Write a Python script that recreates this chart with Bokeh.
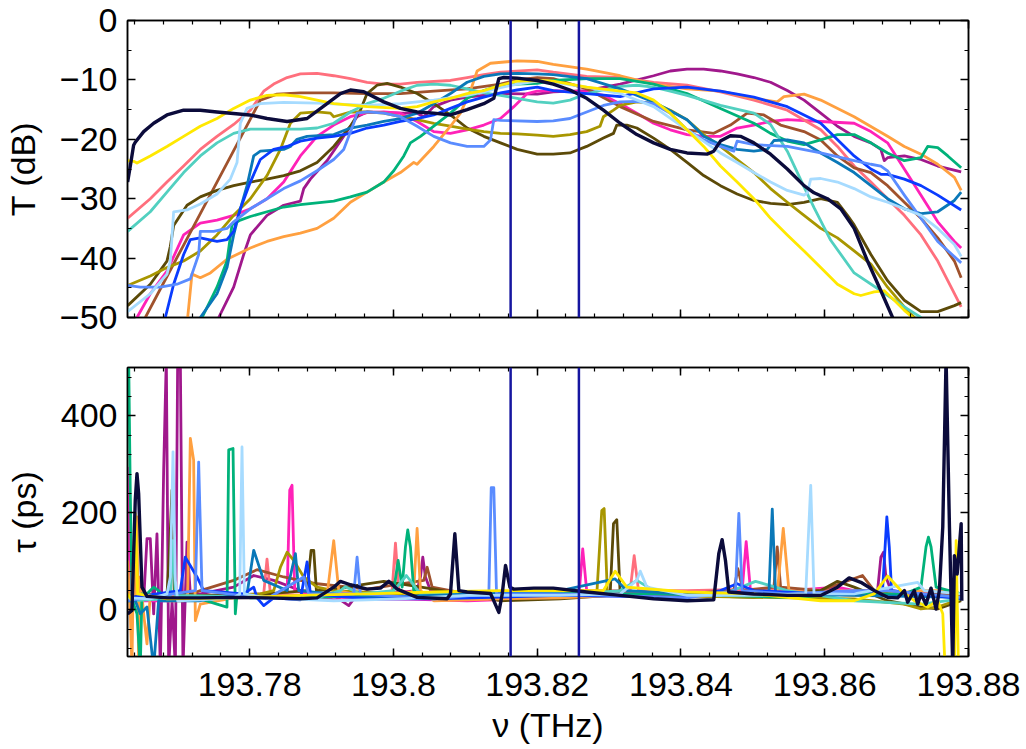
from bokeh.plotting import figure
from bokeh.layouts import column
from bokeh.models import FixedTicker, LinearAxis, Span, CustomJSTickFormatter, Range1d
from bokeh.embed import file_html
from bokeh.resources import INLINE

FONT = "Liberation Sans"

# ---------------- axes / ticks ----------------
NU_RANGE = (193.763, 193.880)
T_RANGE = (-50, 0)
TAU_RANGE = (-96, 500)
NU_TICKS = [193.78, 193.80, 193.82, 193.84, 193.86, 193.88]
T_TICKS = [-50, -40, -30, -20, -10, 0]
TAU_TICKS = [0, 200, 400]
MARKER_NU = [193.8163, 193.8258]

COLORS = {
    "purple": "#a0188c", "hotpink": "#ff22b8", "coral": "#ff6f7d", "brown": "#a0522d",
    "dkolive": "#5c4a08", "olive": "#a89600", "orange": "#ffa040", "green": "#00b27a",
    "turq": "#52d0c0", "steel": "#0a78b8", "blue": "#0a3cff", "cornf": "#5a8cff",
    "ltblue": "#a6dbff", "yellow": "#ffe800", "navy": "#0b0b3b",
}
MARKER_COLOR = "#1616a0"

# ---------------- transmission T (dB): (nu THz, T dB) ----------------
T_NAVY = [(193.76302, -27.2), (193.76339, -24.5), (193.76385, -21.0), (193.76408, -20.5), (193.76525, -18.7),
          (193.76664, -17.3), (193.76849, -15.9), (193.77081, -15.1), (193.77313, -15.1), (193.77545, -15.4),
          (193.78000, -15.9), (193.78241, -16.5), (193.78520, -17.0), (193.78798, -16.5), (193.79076, -14.0),
          (193.79262, -12.3), (193.79401, -11.7), (193.79587, -12.0), (193.79865, -13.7), (193.80097, -14.8),
          (193.80329, -15.4), (193.80561, -15.6), (193.80793, -15.9), (193.81025, -15.0), (193.81257, -14.0),
          (193.81396, -13.1), (193.81466, -9.8), (193.81536, -9.6), (193.81721, -9.7), (193.82000, -10.1),
          (193.82223, -10.7), (193.82456, -11.7), (193.82688, -13.1), (193.82921, -15.1), (193.83154, -17.3),
          (193.83386, -19.2), (193.83619, -20.6), (193.83851, -21.7), (193.84084, -22.3), (193.84363, -22.5),
          (193.84456, -22.0), (193.84549, -20.3), (193.84688, -19.4), (193.84828, -19.5), (193.85014, -20.6),
          (193.85246, -22.5), (193.85479, -25.0), (193.85712, -27.8), (193.85851, -29.0), (193.86037, -30.0),
          (193.86223, -31.7), (193.86409, -35.0), (193.86595, -40.5), (193.86781, -45.5), (193.86944, -50.0),
          (193.87014, -53.0)]
T_YELLOW = [(193.76302, -23.6), (193.76385, -23.7), (193.76432, -24.0), (193.76617, -22.8), (193.76849, -21.2),
            (193.77081, -19.5), (193.77313, -17.8), (193.77545, -16.5), (193.77777, -14.8), (193.78009, -13.4),
            (193.78241, -12.6), (193.78473, -12.5), (193.78705, -12.8), (193.78937, -13.4), (193.79169, -14.0),
            (193.79633, -14.5), (193.80097, -14.8), (193.80329, -14.5), (193.80561, -13.7), (193.80793, -13.1),
            (193.81025, -12.3), (193.81257, -11.8), (193.81489, -10.9), (193.81721, -10.2), (193.82000, -10.1),
            (193.82223, -10.2), (193.82688, -11.2), (193.83154, -11.9), (193.83386, -12.2), (193.83619, -13.4),
            (193.83851, -15.6), (193.84084, -18.4), (193.84316, -21.2), (193.84549, -24.5), (193.84781, -27.2),
            (193.85014, -30.0), (193.85246, -33.3), (193.85479, -36.1), (193.85712, -38.8), (193.85944, -41.6),
            (193.86177, -44.4), (193.86409, -46.0), (193.86502, -46.3), (193.86688, -45.7), (193.86828, -45.5),
            (193.86967, -47.1), (193.87107, -48.8), (193.87223, -50.0), (193.87339, -52.0)]
T_CORAL = [(193.76302, -33.3), (193.76617, -30.0), (193.76849, -27.2), (193.77081, -24.5), (193.77313, -21.7),
           (193.77545, -19.5), (193.77777, -17.5), (193.78009, -15.1), (193.78195, -11.9), (193.78334, -10.7),
           (193.78520, -9.6), (193.78705, -9.0), (193.78937, -8.9), (193.79169, -9.3), (193.79401, -9.8),
           (193.79633, -10.4), (193.79865, -10.7), (193.80097, -10.7), (193.80329, -10.4), (193.80793, -10.1),
           (193.81025, -9.6), (193.81257, -9.1), (193.81489, -8.7), (193.82000, -8.3), (193.82223, -8.7),
           (193.82688, -9.4), (193.83154, -9.6), (193.83619, -10.4), (193.84084, -10.9), (193.84549, -12.0),
           (193.85014, -13.4), (193.85479, -15.1), (193.85944, -18.4), (193.86177, -21.2), (193.86409, -24.5),
           (193.86642, -27.2), (193.86874, -30.0), (193.87107, -32.8), (193.87339, -36.1), (193.87572, -40.5),
           (193.87758, -44.9), (193.87898, -48.2)]
T_TURQ = [(193.76302, -35.5), (193.76617, -32.2), (193.76849, -28.9), (193.77081, -25.6), (193.77313, -22.8),
          (193.77545, -20.6), (193.77777, -19.0), (193.78009, -18.3), (193.78705, -18.3), (193.78937, -18.1),
          (193.79169, -17.3), (193.79401, -15.4), (193.79633, -14.0), (193.79865, -13.1), (193.80097, -11.9),
          (193.80329, -10.9), (193.80561, -10.7), (193.80793, -10.9), (193.81025, -11.5), (193.81257, -12.2),
          (193.81489, -12.6), (193.81721, -13.1), (193.82000, -13.7), (193.82223, -13.9), (193.82456, -13.4),
          (193.82688, -12.3), (193.82921, -11.7), (193.83154, -11.1), (193.83386, -10.9), (193.83619, -11.2),
          (193.83851, -11.9), (193.84084, -12.6), (193.84549, -14.3), (193.85014, -15.6), (193.85246, -17.5),
          (193.85479, -22.0), (193.85712, -28.0), (193.85851, -31.5), (193.86083, -37.0), (193.86409, -42.5),
          (193.86781, -45.5), (193.87107, -48.2), (193.87339, -50.0), (193.87479, -51.5)]
T_BROWN = [(193.76548, -50.0), (193.76849, -43.1), (193.77081, -37.8), (193.77313, -32.5), (193.77545, -27.2),
           (193.77777, -21.9), (193.78009, -16.6), (193.78148, -13.4), (193.78380, -12.4), (193.78705, -12.2),
           (193.79169, -12.2), (193.79633, -12.3), (193.80097, -12.3), (193.80561, -11.9), (193.81025, -11.5),
           (193.81489, -10.7), (193.81721, -10.0), (193.82000, -9.6), (193.82223, -9.8), (193.82688, -11.5),
           (193.83154, -14.5), (193.83619, -17.0), (193.84084, -18.4), (193.84456, -19.0), (193.84688, -17.6),
           (193.84921, -15.6), (193.85153, -15.9), (193.85386, -17.6), (193.85712, -18.7), (193.85944, -20.1),
           (193.86177, -22.8), (193.86409, -24.8), (193.86642, -25.6), (193.86874, -27.8), (193.87107, -30.6),
           (193.87339, -33.3), (193.87572, -36.6), (193.87804, -40.5), (193.87898, -43.3)]
T_DKOLIVE = [(193.76302, -48.0), (193.76617, -44.4), (193.76849, -40.5), (193.76896, -38.0), (193.76942, -34.5),
             (193.77128, -31.1), (193.77313, -29.7), (193.77545, -28.6), (193.77777, -27.8), (193.78009, -27.2),
             (193.78241, -26.7), (193.78473, -26.1), (193.78705, -25.3), (193.78937, -23.9), (193.79169, -21.2),
             (193.79401, -17.8), (193.79540, -15.1), (193.79633, -12.3), (193.79772, -10.9), (193.79912, -10.6),
             (193.80097, -11.2), (193.80329, -12.3), (193.80561, -14.0), (193.80793, -15.9), (193.81025, -18.1),
             (193.81257, -19.5), (193.81489, -20.6), (193.81721, -21.7), (193.82000, -22.5), (193.82223, -22.5),
             (193.82456, -22.3), (193.82688, -21.2), (193.82921, -19.8), (193.83061, -19.0), (193.83107, -17.6),
             (193.83247, -17.6), (193.83386, -18.1), (193.83619, -19.8), (193.83851, -21.7), (193.84084, -23.9),
             (193.84316, -26.1), (193.84549, -27.8), (193.84781, -29.2), (193.85014, -30.3), (193.85246, -30.8),
             (193.85479, -31.0), (193.85712, -30.6), (193.85944, -30.0), (193.86177, -30.6), (193.86316, -32.8),
             (193.86409, -34.4), (193.86642, -39.4), (193.86874, -43.8), (193.87107, -47.1), (193.87339, -49.0),
             (193.87572, -49.0), (193.87804, -48.0), (193.87898, -47.5)]
T_OLIVE = [(193.76302, -44.6), (193.76617, -43.0), (193.76849, -41.6), (193.77081, -40.5), (193.77313, -38.8),
           (193.77545, -36.1), (193.77777, -32.8), (193.78009, -30.0), (193.78241, -26.1), (193.78427, -21.7),
           (193.78566, -17.3), (193.78705, -15.6), (193.78937, -15.4), (193.79123, -15.6), (193.79169, -16.2),
           (193.79401, -15.4), (193.79633, -15.4), (193.79865, -15.6), (193.80097, -16.2), (193.80329, -16.7),
           (193.80561, -17.3), (193.80793, -17.8), (193.81025, -18.3), (193.81257, -18.7), (193.81489, -19.0),
           (193.81721, -19.1), (193.82000, -19.3), (193.82223, -19.5), (193.82456, -19.2), (193.82688, -18.7),
           (193.82874, -17.8), (193.82921, -16.2), (193.83061, -15.1), (193.83154, -14.3), (193.83386, -13.7),
           (193.83619, -13.9), (193.83851, -15.1), (193.84084, -16.7), (193.84316, -19.2), (193.84549, -21.2),
           (193.84781, -23.4), (193.85014, -25.6), (193.85246, -28.3), (193.85479, -30.6), (193.85712, -32.8),
           (193.85944, -35.0), (193.86177, -36.6), (193.86409, -38.8), (193.86642, -41.0), (193.86874, -44.9),
           (193.87107, -48.2), (193.87246, -50.0), (193.87339, -51.0)]
T_LTBLUE = [(193.76302, -49.0), (193.76617, -46.0), (193.76849, -42.7), (193.76896, -40.5), (193.76942, -32.2),
            (193.77128, -31.9), (193.77313, -30.9), (193.77545, -29.2), (193.77731, -26.7), (193.77824, -23.9),
            (193.77870, -17.3), (193.77963, -14.8), (193.78148, -14.0), (193.78473, -13.8), (193.78937, -13.9),
            (193.79633, -14.3), (193.80097, -14.0), (193.80561, -13.4), (193.81025, -12.6), (193.81257, -12.0),
            (193.81489, -11.3), (193.81721, -10.7), (193.82000, -10.2), (193.82223, -10.4), (193.82688, -11.2),
            (193.83154, -12.3), (193.83619, -14.5), (193.84084, -18.4), (193.84549, -22.3), (193.84781, -23.9),
            (193.85014, -25.6), (193.85246, -27.2), (193.85479, -28.6), (193.85712, -29.4), (193.85758, -29.0),
            (193.85805, -26.7), (193.85944, -26.6), (193.86177, -27.2), (193.86409, -28.3), (193.86642, -29.7),
            (193.86874, -30.6), (193.87107, -31.7), (193.87339, -32.8), (193.87572, -35.0), (193.87804, -37.7),
            (193.87898, -39.7)]
T_BLUE = [(193.76826, -50.0), (193.76942, -44.4), (193.77081, -39.4), (193.77174, -36.9), (193.77313, -36.6),
          (193.77545, -37.2), (193.77684, -36.9), (193.77777, -35.5), (193.77870, -31.7), (193.78009, -27.2),
          (193.78148, -23.4), (193.78334, -21.7), (193.78520, -21.2), (193.78705, -20.3), (193.78937, -19.8),
          (193.79169, -19.5), (193.79401, -19.0), (193.79633, -18.1), (193.79865, -17.6), (193.80097, -17.0),
          (193.80329, -16.5), (193.80561, -15.9), (193.80793, -14.8), (193.81025, -13.7), (193.81257, -12.9),
          (193.81489, -12.2), (193.81721, -11.7), (193.82000, -11.2), (193.82223, -11.8), (193.82688, -12.3),
          (193.83154, -12.8), (193.83619, -11.5), (193.84084, -11.2), (193.84549, -11.9), (193.85014, -12.9),
          (193.85479, -14.5), (193.85944, -17.3), (193.86409, -22.8), (193.86642, -25.0), (193.86781, -25.9),
          (193.86874, -25.9), (193.87107, -26.7), (193.87339, -27.8), (193.87572, -29.4), (193.87898, -31.9)]
T_STEEL = [(193.77313, -50.0), (193.77545, -46.0), (193.77684, -41.6), (193.77777, -36.1), (193.77870, -31.7),
           (193.77963, -27.8), (193.78056, -22.8), (193.78148, -22.0), (193.78473, -21.7), (193.78566, -21.2),
           (193.78659, -20.0), (193.78798, -19.5), (193.79169, -19.2), (193.79401, -18.1), (193.79633, -17.6),
           (193.79865, -17.0), (193.80097, -16.5), (193.80329, -15.6), (193.80561, -14.0), (193.80793, -12.3),
           (193.81025, -10.4), (193.81257, -9.4), (193.81489, -9.0), (193.81721, -8.9), (193.82000, -9.0),
           (193.82223, -9.1), (193.82688, -9.8), (193.83154, -11.5), (193.83619, -13.7), (193.84084, -16.7),
           (193.84316, -19.5), (193.84549, -20.9), (193.84781, -21.7), (193.85014, -22.0), (193.85200, -21.7),
           (193.85293, -20.2), (193.85479, -20.1), (193.85712, -20.6), (193.85944, -22.3), (193.86177, -23.9),
           (193.86409, -25.6), (193.86642, -27.8), (193.86874, -30.0), (193.87107, -31.7), (193.87339, -32.5),
           (193.87572, -32.2), (193.87804, -30.3), (193.87898, -28.9)]
T_CORNF = [(193.76302, -44.6), (193.76478, -44.9), (193.76757, -44.9), (193.76989, -44.4), (193.77174, -43.5),
           (193.77290, -39.4), (193.77313, -35.5), (193.77499, -35.5), (193.77684, -35.0), (193.77777, -33.9),
           (193.78009, -31.7), (193.78241, -30.0), (193.78473, -28.3), (193.78705, -27.0), (193.78937, -25.3),
           (193.79169, -23.4), (193.79308, -21.7), (193.79448, -17.3), (193.79494, -15.6), (193.79633, -15.4),
           (193.79865, -15.6), (193.80097, -16.2), (193.80329, -17.8), (193.80561, -19.5), (193.80793, -20.6),
           (193.81025, -21.2), (193.81257, -21.2), (193.81350, -20.1), (193.81396, -16.7), (193.81489, -16.8),
           (193.82000, -17.0), (193.82223, -16.9), (193.82456, -16.5), (193.82688, -15.4), (193.82921, -14.3),
           (193.83154, -13.7), (193.83386, -13.6), (193.83619, -14.0), (193.83851, -15.6), (193.84084, -18.4),
           (193.84316, -20.1), (193.84549, -21.2), (193.84735, -22.0), (193.84781, -20.3), (193.85014, -20.9),
           (193.85479, -21.2), (193.85944, -22.3), (193.86409, -23.6), (193.86642, -24.2), (193.86781, -24.5),
           (193.86874, -25.3), (193.87107, -29.4), (193.87339, -33.3), (193.87572, -37.2), (193.87898, -40.8)]
T_HOTPINK = [(193.76432, -50.0), (193.76617, -46.0), (193.76849, -42.2), (193.77081, -36.1), (193.77313, -34.1),
             (193.77545, -33.6), (193.77777, -32.8), (193.78009, -31.7), (193.78241, -30.0), (193.78473, -27.2),
             (193.78705, -22.8), (193.78937, -19.5), (193.79169, -17.6), (193.79401, -16.2), (193.79633, -15.5),
             (193.79865, -15.4), (193.80097, -15.6), (193.80329, -17.0), (193.80561, -18.7), (193.80793, -19.0),
             (193.81025, -18.4), (193.81257, -17.6), (193.81489, -16.5), (193.81675, -14.5), (193.81860, -12.3),
             (193.82000, -11.9), (193.82223, -11.8), (193.82688, -12.0), (193.82921, -12.6), (193.83154, -14.0),
             (193.83386, -15.6), (193.83619, -17.3), (193.83851, -18.4), (193.84084, -19.2), (193.84316, -19.5),
             (193.84549, -19.5), (193.84781, -18.1), (193.85014, -17.6), (193.85246, -17.0), (193.85479, -16.7),
             (193.85944, -17.0), (193.86409, -17.3), (193.86642, -18.7), (193.86874, -20.6), (193.87107, -25.0),
             (193.87339, -29.4), (193.87572, -33.9), (193.87804, -37.2), (193.87898, -38.3)]
T_PURPLE = [(193.77569, -50.0), (193.77777, -44.9), (193.77916, -39.4), (193.78009, -36.1), (193.78241, -32.8),
            (193.78473, -31.1), (193.78705, -30.4), (193.78752, -28.3), (193.78844, -26.7), (193.79076, -23.6),
            (193.79308, -19.5), (193.79494, -16.2), (193.79633, -15.4), (193.80097, -15.6), (193.80329, -15.6),
            (193.80422, -16.2), (193.80561, -14.5), (193.80793, -13.4), (193.81025, -12.9), (193.81257, -12.6),
            (193.81489, -12.3), (193.82000, -12.4), (193.82223, -12.0), (193.82688, -11.8), (193.83154, -10.7),
            (193.83619, -9.3), (193.83851, -8.5), (193.84084, -8.2), (193.84316, -8.2), (193.84549, -8.5),
            (193.84781, -9.0), (193.85014, -9.6), (193.85246, -10.4), (193.85479, -11.8), (193.85712, -13.4),
            (193.85944, -15.6), (193.86177, -17.8), (193.86409, -19.5), (193.86642, -20.6), (193.86781, -21.7),
            (193.86828, -23.6), (193.86874, -23.1), (193.87107, -22.8), (193.87339, -23.4), (193.87572, -24.5),
            (193.87898, -25.5)]
T_GREEN = [(193.77337, -50.0), (193.77545, -44.9), (193.77684, -40.5), (193.77754, -34.4), (193.77870, -33.6),
           (193.78009, -33.0), (193.78241, -32.2), (193.78473, -31.4), (193.78705, -31.0), (193.78937, -30.7),
           (193.79169, -30.4), (193.79401, -29.7), (193.79633, -28.9), (193.79865, -27.2), (193.80004, -25.3),
           (193.80144, -22.8), (193.80236, -20.6), (193.80376, -19.5), (193.80561, -17.8), (193.80793, -15.6),
           (193.81025, -13.1), (193.81257, -11.8), (193.81489, -10.9), (193.81721, -10.7), (193.82000, -10.6),
           (193.82223, -10.1), (193.82688, -9.8), (193.83154, -9.8), (193.83619, -10.7), (193.84084, -12.3),
           (193.84549, -14.8), (193.85014, -17.3), (193.85246, -19.0), (193.85479, -20.3), (193.85712, -20.9),
           (193.85944, -20.1), (193.86177, -19.2), (193.86409, -19.2), (193.86642, -20.6), (193.86874, -22.3),
           (193.87107, -23.6), (193.87339, -23.1), (193.87432, -21.2), (193.87572, -21.4), (193.87712, -22.8),
           (193.87898, -24.8)]
T_ORANGE = [(193.77137, -50.0), (193.77197, -42.7), (193.77313, -43.3), (193.77453, -42.5), (193.77684, -40.2),
            (193.78009, -38.3), (193.78241, -37.2), (193.78473, -36.4), (193.78705, -35.8), (193.78937, -35.0),
            (193.79169, -33.3), (193.79401, -30.6), (193.79633, -28.9), (193.79865, -27.2), (193.80097, -25.6),
            (193.80283, -23.9), (193.80329, -24.2), (193.80561, -21.2), (193.80793, -17.8), (193.80932, -15.6),
            (193.81072, -11.8), (193.81164, -8.5), (193.81350, -7.2), (193.81721, -6.8), (193.82000, -6.9),
            (193.82223, -7.4), (193.82688, -8.2), (193.83154, -9.3), (193.83619, -10.7), (193.84084, -11.5),
            (193.84549, -11.9), (193.85014, -13.1), (193.85339, -13.7), (193.85432, -12.8), (193.85712, -12.4),
            (193.85944, -13.4), (193.86409, -16.2), (193.86874, -19.5), (193.87107, -21.2), (193.87339, -22.5),
            (193.87572, -24.2), (193.87804, -26.4), (193.87898, -28.6)]

# ---------------- group delay tau (ps): (nu THz, tau ps) ----------------
TAU_NAVY = [(193.76302, -8), (193.76362, -1), (193.76408, 226), (193.76432, 281), (193.76455, 240), (193.76501, 47),
            (193.76571, 28), (193.76849, 25), (193.77313, 25), (193.77777, 26), (193.78241, 25), (193.78705, 23),
            (193.78937, 25), (193.79169, 47), (193.79262, 59), (193.79401, 52), (193.79633, 43), (193.79819, 45),
            (193.79935, 59), (193.80051, 43), (193.80329, 26), (193.80747, 23), (193.80793, 33), (193.80854, 157),
            (193.80910, 40), (193.81025, 37), (193.81350, 34), (193.81396, 19), (193.81466, -5), (193.81513, 33),
            (193.81559, 92), (193.81620, 47), (193.81675, 43), (193.81953, 45), (193.82223, 45), (193.82688, 37),
            (193.83154, 30), (193.83619, 23), (193.84084, 19), (193.84456, 21), (193.84526, 116), (193.84572, 145),
            (193.84619, 102), (193.84665, 37), (193.85014, 33), (193.85479, 30), (193.85944, 30), (193.86177, 47),
            (193.86339, 66), (193.86502, 57), (193.86688, 40), (193.86874, 26), (193.87014, 25), (193.87107, 40),
            (193.87154, 16), (193.87246, 40), (193.87293, 12), (193.87339, 33), (193.87409, 12), (193.87479, 45),
            (193.87549, 2), (193.87595, 40), (193.87642, 171), (193.87688, 520), (193.87735, 171), (193.87781, -120),
            (193.87804, 112), (193.87842, 74), (193.87898, 178), (193.87907, 19)]
TAU_GREEN = [(193.76316, 520), (193.76339, 240), (193.76362, 33), (193.76385, 12), (193.76432, -8), (193.76478, -120),
             (193.76501, 33), (193.76571, 33), (193.76617, 40), (193.76664, 47), (193.76733, 40), (193.76849, 19),
             (193.77081, 23), (193.77313, 23), (193.77545, 12), (193.77684, 6), (193.77708, 330), (193.77768, 333),
             (193.77800, -8), (193.77824, 33), (193.78009, 25), (193.78705, 25), (193.79865, 30), (193.80004, 40),
             (193.80065, 102), (193.80121, 47), (193.80167, 130), (193.80199, 165), (193.80236, 130), (193.80283, 40),
             (193.80561, 30), (193.81489, 30), (193.82000, 34), (193.83619, 33), (193.84549, 30), (193.85479, 26),
             (193.86409, 33), (193.87107, 33), (193.87339, 47), (193.87409, 130), (193.87442, 150), (193.87479, 130),
             (193.87549, 47), (193.87898, 33)]
TAU_ORANGE = [(193.76302, 102), (193.76339, -8), (193.76362, -120), (193.76385, 130), (193.76408, 33), (193.76432, 192),
              (193.76455, -120), (193.76478, 68), (193.76525, -8), (193.76571, -70), (193.76617, 33), (193.76849, 19),
              (193.77081, 19), (193.77137, 33), (193.77174, 354), (193.77220, 309), (193.77244, -22), (193.77313, 12),
              (193.77777, 25), (193.78705, 26), (193.79076, 30), (193.79169, 143), (193.79239, 40), (193.79633, 25),
              (193.80097, 25), (193.80283, 40), (193.80329, 168), (193.80376, 40), (193.80561, 19), (193.81489, 23),
              (193.82324, 25), (193.83619, 33), (193.84549, 30), (193.85339, 33), (193.85423, 168), (193.85502, 40),
              (193.85944, 33), (193.86409, 30), (193.86874, 33), (193.87339, 40), (193.87712, 40), (193.87898, 33)]
TAU_PURPLE = [(193.76525, 19), (193.76571, 147), (193.76617, 147), (193.76664, -8), (193.76710, 157), (193.76757, -120),
              (193.76803, 288), (193.76840, 520), (193.76873, -120), (193.76920, 19), (193.76966, -120), (193.76998, 520),
              (193.77035, 520), (193.77072, -120), (193.77128, 140), (193.77174, 33), (193.77313, 33), (193.77777, 47),
              (193.78056, 71), (193.78334, 61), (193.78705, 40), (193.79169, 30), (193.79378, 9), (193.79448, 23),
              (193.79633, 30), (193.80329, 40), (193.80376, 68), (193.80408, 109), (193.80445, 68), (193.80515, 40),
              (193.81025, 33), (193.82324, 40), (193.83154, 37), (193.84084, 33), (193.85014, 33), (193.85944, 37),
              (193.86735, 40), (193.86781, 109), (193.86818, 119), (193.86851, 68), (193.86921, 40), (193.87339, 33),
              (193.87898, 30)]
TAU_LTBLUE = [(193.76302, 25), (193.76617, 23), (193.76849, 33), (193.76896, 68), (193.76933, 326), (193.76966, 61),
              (193.76998, 19), (193.77313, 21), (193.77777, 25), (193.77861, 33), (193.77893, 336), (193.77926, 33),
              (193.78241, 25), (193.79169, 19), (193.80097, 23), (193.81025, 30), (193.82324, 30), (193.83154, 33),
              (193.83386, 61), (193.83433, 80), (193.83526, 47), (193.84084, 30), (193.85014, 30), (193.85735, 33),
              (193.85805, 257), (193.85851, 33), (193.86409, 33), (193.87293, 57), (193.87386, 40), (193.87898, 33)]
TAU_DKOLIVE = [(193.76302, 30), (193.76849, 30), (193.76886, 130), (193.76919, 247), (193.76951, 33), (193.77313, 30),
               (193.78241, 33), (193.78798, 40), (193.78854, 123), (193.78891, 123), (193.78928, 40), (193.79169, 43),
               (193.79633, 54), (193.79865, 59), (193.80097, 54), (193.80561, 43), (193.81025, 30), (193.81489, 19),
               (193.82324, 23), (193.83014, 30), (193.83061, 178), (193.83107, 186), (193.83154, 33), (193.84084, 30),
               (193.85014, 26), (193.85944, 40), (193.86177, 59), (193.86409, 47), (193.86874, 19), (193.87339, 6),
               (193.87572, 2), (193.87898, 19)]
TAU_OLIVE = [(193.76302, 26), (193.77313, 25), (193.78148, 33), (193.78334, 40), (193.78427, 88), (193.78520, 119),
             (193.78612, 102), (193.78752, 68), (193.78937, 47), (193.79169, 40), (193.80097, 33), (193.81489, 26),
             (193.82324, 30), (193.82828, 30), (193.82898, 205), (193.82931, 209), (193.82977, 30), (193.83619, 30),
             (193.85014, 26), (193.86409, 23), (193.87107, 12), (193.87339, 2), (193.87572, 6), (193.87898, 23)]
TAU_HOTPINK = [(193.76302, 295), (193.76339, 33), (193.76385, 19), (193.76849, 19), (193.78520, 33), (193.78557, 247),
               (193.78589, 257), (193.78626, 40), (193.79169, 21), (193.80097, 23), (193.81025, 19), (193.82324, 25),
               (193.82586, 40), (193.82633, 126), (193.82688, 40), (193.83619, 33), (193.84851, 40), (193.84907, 141),
               (193.84967, 40), (193.85479, 40), (193.86177, 47), (193.86409, 40), (193.87339, 33), (193.87898, 26)]
TAU_CORAL = [(193.76302, 25), (193.78195, 33), (193.78241, 105), (193.78288, 33), (193.79633, 25), (193.79981, 40),
             (193.80028, 138), (193.80074, 40), (193.80561, 30), (193.82324, 40), (193.83293, 40), (193.83349, 112),
             (193.83409, 40), (193.84084, 40), (193.85014, 43), (193.86409, 40), (193.87898, 33)]
TAU_CORNF = [(193.76302, 19), (193.77244, 40), (193.77290, 305), (193.77337, 40), (193.78241, 23), (193.78752, 68),
             (193.78821, 33), (193.79448, 33), (193.79494, 109), (193.79540, 33), (193.80561, 23), (193.81327, 33),
             (193.81360, 252), (193.81396, 252), (193.81434, 33), (193.82324, 33), (193.84084, 25), (193.84758, 40),
             (193.84805, 199), (193.84851, 40), (193.85479, 33), (193.86409, 40), (193.86874, 40), (193.87898, 26)]
TAU_BLUE = [(193.76302, 25), (193.77035, 40), (193.77104, 109), (193.77267, 68), (193.77360, 40), (193.77916, 33),
            (193.78056, 47), (193.78102, 25), (193.78195, 9), (193.78334, 25), (193.78705, 21), (193.78798, 99),
            (193.78844, 33), (193.79633, 23), (193.80561, 23), (193.82324, 30), (193.84084, 26), (193.84549, 40),
            (193.84781, 54), (193.85014, 40), (193.85944, 33), (193.86804, 40), (193.86864, 192), (193.86898, 130),
            (193.86930, 40), (193.87898, 23)]
TAU_STEEL = [(193.76302, 19), (193.76408, 19), (193.76478, -8), (193.76571, 6), (193.76664, -120), (193.76733, 19),
             (193.77313, 19), (193.77963, 33), (193.78056, 123), (193.78195, 61), (193.78520, 40), (193.78636, 116),
             (193.78682, 40), (193.79633, 26), (193.80561, 30), (193.82324, 40), (193.83084, 64), (193.83247, 40),
             (193.84084, 33), (193.85223, 33), (193.85270, 208), (193.85316, 33), (193.86409, 30), (193.87898, 26)]
TAU_TURQ = [(193.76302, 19), (193.76849, 23), (193.76896, 30), (193.76933, 143), (193.76966, 30), (193.78937, 25),
            (193.79262, 40), (193.79332, 48), (193.79540, 33), (193.80004, 40), (193.80180, 71), (193.80376, 33),
            (193.82324, 30), (193.83154, 40), (193.83386, 61), (193.83619, 40), (193.84549, 30), (193.85037, 59),
            (193.85479, 40), (193.86409, 19), (193.87339, 12), (193.87898, 23)]
TAU_BROWN = [(193.76302, 25), (193.77081, 26), (193.77313, 40), (193.77777, 61), (193.78102, 83), (193.78473, 68),
             (193.78937, 54), (193.79633, 43), (193.80422, 61), (193.80469, 88), (193.80538, 47), (193.81025, 33),
             (193.82324, 34), (193.83619, 30), (193.84735, 40), (193.84791, 85), (193.84865, 40), (193.85293, 47),
             (193.85339, 130), (193.85386, 47), (193.85944, 40), (193.86526, 71), (193.86688, 40), (193.87339, 33),
             (193.87898, 30)]
TAU_YELLOW = [(193.76302, 33), (193.76362, 19), (193.76408, 199), (193.76441, 33), (193.76849, 23), (193.77777, 25),
              (193.78705, 30), (193.79633, 33), (193.80561, 37), (193.81489, 40), (193.82324, 40), (193.82921, 40),
              (193.83084, 80), (193.83247, 47), (193.84084, 37), (193.85014, 33), (193.85944, 19), (193.86409, 19),
              (193.86688, 33), (193.86874, 70), (193.87060, 40), (193.87246, 19), (193.87432, 6), (193.87572, 19),
              (193.87642, -8), (193.87674, -120), (193.87804, -120), (193.87828, 143), (193.87860, -120),
              (193.87898, -120)]

T_SERIES = [("purple", T_PURPLE), ("hotpink", T_HOTPINK), ("coral", T_CORAL), ("brown", T_BROWN),
            ("dkolive", T_DKOLIVE), ("olive", T_OLIVE), ("orange", T_ORANGE), ("green", T_GREEN),
            ("turq", T_TURQ), ("steel", T_STEEL), ("blue", T_BLUE), ("cornf", T_CORNF),
            ("ltblue", T_LTBLUE), ("yellow", T_YELLOW), ("navy", T_NAVY)]
TAU_SERIES = [("purple", TAU_PURPLE), ("hotpink", TAU_HOTPINK), ("coral", TAU_CORAL), ("brown", TAU_BROWN),
              ("dkolive", TAU_DKOLIVE), ("olive", TAU_OLIVE), ("orange", TAU_ORANGE), ("green", TAU_GREEN),
              ("turq", TAU_TURQ), ("steel", TAU_STEEL), ("blue", TAU_BLUE), ("cornf", TAU_CORNF),
              ("ltblue", TAU_LTBLUE), ("yellow", TAU_YELLOW), ("navy", TAU_NAVY)]

X_FMT = CustomJSTickFormatter(code="let s = tick.toFixed(2); if (s.endsWith('0')) { s = s.slice(0, -1); } return s;")
Y_FMT = CustomJSTickFormatter(code="return (tick < 0 ? '\\u2212' : '') + Math.abs(tick).toFixed(0);")
NO_FMT = CustomJSTickFormatter(code="return '';")

x_minor = [round(193.764 + 0.004 * i, 3) for i in range(30)]
t_minor = [-50 + 5 * i for i in range(11)]
tau_minor = [-80 + 40 * i for i in range(15)]


def style_axis(ax, labels):
    ax.major_tick_in = 8
    ax.major_tick_out = 0
    ax.minor_tick_in = 4
    ax.minor_tick_out = 0
    ax.axis_line_color = "black"
    ax.axis_line_width = 1.5
    ax.major_tick_line_width = 1.5
    ax.minor_tick_line_width = 1.2
    ax.major_label_text_font = FONT
    ax.major_label_text_font_size = "34px"
    ax.major_label_text_color = "black"
    ax.major_label_standoff = 10 if labels else 0
    ax.axis_label_text_font = FONT
    ax.axis_label_text_font_size = "34px"
    ax.axis_label_text_font_style = "normal"
    ax.axis_label_text_color = "black"


def make_panel(height, top, bottom, y_range, y_ticks, y_minor, series, ylabel, xlabel):
    p = figure(width=1026, height=height, output_backend="svg", toolbar_location=None,
               x_range=Range1d(*NU_RANGE), y_range=Range1d(*y_range),
               min_border_left=127, min_border_right=58, min_border_top=top, min_border_bottom=bottom)
    p.grid.visible = False
    p.outline_line_color = "black"
    p.outline_line_width = 1.5
    p.background_fill_color = "white"
    p.border_fill_color = "white"
    xt = FixedTicker(ticks=NU_TICKS, minor_ticks=x_minor)
    yt = FixedTicker(ticks=y_ticks, minor_ticks=y_minor)
    xb = p.below[0]
    yl = p.left[0]
    xb.ticker = xt
    yl.ticker = yt
    xb.formatter = X_FMT if xlabel else NO_FMT
    yl.formatter = Y_FMT
    style_axis(xb, bool(xlabel))
    style_axis(yl, True)
    yl.axis_label = ylabel
    yl.axis_label_standoff = 15
    if xlabel:
        xb.axis_label = xlabel
        xb.major_label_standoff = 16
        xb.axis_label_standoff = 7
    ax_top = LinearAxis(ticker=xt, formatter=NO_FMT)
    style_axis(ax_top, False)
    p.add_layout(ax_top, "above")
    ax_right = LinearAxis(ticker=yt, formatter=NO_FMT)
    style_axis(ax_right, False)
    p.add_layout(ax_right, "right")
    for name, pts in series:
        xs = [a for a, b in pts]
        ys = [b for a, b in pts]
        p.line(xs, ys, line_color=COLORS[name], line_width=3.4 if name == "navy" else 2.8,
               line_join="round")
    for nu in MARKER_NU:
        p.add_layout(Span(location=nu, dimension="height", line_color=MARKER_COLOR, line_width=2.5))
    return p


p1 = make_panel(342, 20, 25, T_RANGE, T_TICKS, t_minor, T_SERIES, "T (dB)", None)
p2 = make_panel(407, 25, 93, TAU_RANGE, TAU_TICKS, tau_minor, TAU_SERIES, "\u03c4 (ps)", "\u03bd (THz)")

layout = column(p1, p2, spacing=0)
open("out.html", "w", encoding="utf-8").write(file_html(layout, INLINE))
